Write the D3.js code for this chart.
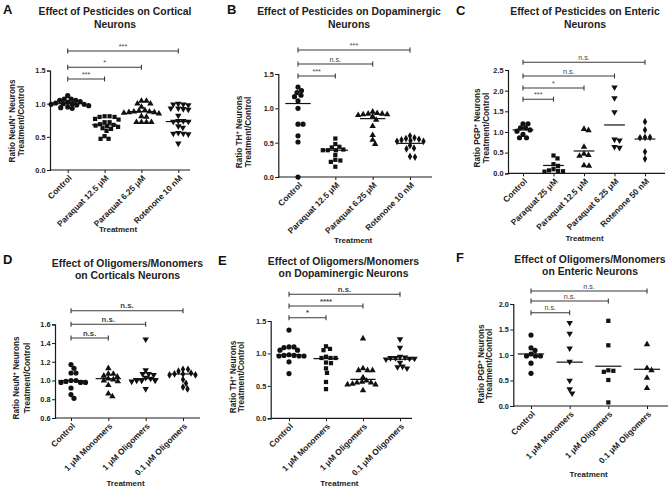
<!DOCTYPE html>
<html><head><meta charset="utf-8">
<script src="https://cdn.jsdelivr.net/npm/d3@7"></script>
<style>
body{margin:0;background:#fff}
svg{display:block}
text{font-family:Arial,"Liberation Sans",Helvetica,sans-serif;fill:#1a1a1a}
</style>
</head><body>
<svg id="c" width="669" height="489"></svg>
<script>
// ---------------- DATA ----------------
const catsA = ["Control","Paraquat 12.5 μM","Paraquat 6.25 μM","Rotenone 10 nM"];
const valuesA = [
  [1.12,1.07,1.07,1.05,1.05,1.03,1.02,1.01,1.00,1.00,0.99,0.99,0.98,0.97,0.95,0.94,0.93],
  [0.81,0.81,0.80,0.80,0.77,0.76,0.72,0.72,0.69,0.68,0.67,0.66,0.65,0.63,0.62,0.59,0.51,0.47,0.47],
  [1.04,1.04,1.00,1.00,0.95,0.90,0.89,0.88,0.88,0.87,0.87,0.86,0.85,0.81,0.80,0.72,0.72,0.72,0.72],
  [1.00,0.99,0.99,0.98,0.93,0.93,0.92,0.91,0.82,0.74,0.74,0.73,0.73,0.66,0.64,0.56,0.55,0.55,0.54,0.40]
];
const meansA = [1.00,0.68,0.88,0.73];
const sigA = ["***","*","***"];
const yTicksA = [0,0.5,1.0,1.5];

const catsB = ["Control","Paraquat 12.5 μM","Paraquat 6.25 μM","Rotenone 10 nM"];
const valuesB = [
  [1.31,1.26,1.23,1.19,1.17,1.11,1.00,0.77,0.77,0.60,0.51,0.00],
  [0.56,0.48,0.44,0.43,0.40,0.39,0.39,0.39,0.32,0.25,0.24,0.22,0.15],
  [0.95,0.93,0.92,0.92,0.91,0.91,0.90,0.88,0.83,0.74,0.61,0.54,0.48],
  [0.60,0.57,0.56,0.55,0.54,0.53,0.52,0.52,0.46,0.42,0.41,0.30,0.29]
];
const meansB = [1.07,0.39,0.85,0.49];
const sigB = ["***","n.s.","***"];
const yTicksB = [0,0.5,1.0,1.5];

const catsC = ["Control","Paraquat 25 μM","Paraquat 12.5 μM","Paraquat 6.25 μM","Rotenone 50 nM"];
const valuesC = [
  [1.20,1.20,1.10,1.10,1.05,1.02,0.94,0.86,0.86],
  [0.43,0.36,0.22,0.18,0.10,0.07,0.06,0.05,0.04],
  [1.07,1.04,0.64,0.47,0.44,0.42,0.19,0.18],
  [2.08,1.82,1.48,0.82,0.80,0.64,0.62],
  [1.25,1.05,0.87,0.87,0.86,0.52,0.35]
];
const meansC = [1.05,0.19,0.54,1.17,0.83];
const sigC = ["***","*","n.s.","n.s."];
const yTicksC = [0,0.5,1.0,1.5,2.0,2.5];

const catsD = ["Control","1 μM Monomers","1 μM Oligomers","0.1 μM Oligomers"];
const valuesD = [
  [1.17,1.13,1.08,1.08,1.00,1.00,0.99,0.98,0.98,0.98,0.92,0.85,0.81],
  [1.13,1.07,1.07,1.05,1.04,1.02,1.01,1.00,0.99,0.95,0.86,0.83],
  [1.44,1.11,1.07,1.07,1.06,1.03,1.02,1.00,1.00,1.00,0.99,0.91],
  [1.12,1.12,1.10,1.08,1.07,1.07,1.06,1.06,1.01,0.97,0.93,0.91]
];
const meansD = [1.00,1.02,1.02,1.07];
const sigD = ["n.s.","n.s.","n.s."];
const yTicksD = [0.6,0.8,1.0,1.2,1.4,1.6];

const catsE = ["Control","1 μM Monomers","1 μM Oligomers","0.1 μM Oligomers"];
const valuesE = [
  [1.36,1.10,1.10,1.09,1.05,1.05,0.98,0.97,0.97,0.96,0.96,0.96,0.87,0.69],
  [1.11,1.07,1.05,0.95,0.93,0.93,0.93,0.86,0.85,0.77,0.70,0.56,0.45],
  [1.23,0.77,0.74,0.74,0.74,0.63,0.58,0.56,0.55,0.55,0.53,0.52,0.52,0.43],
  [1.22,1.09,0.95,0.94,0.93,0.93,0.92,0.92,0.91,0.86,0.80,0.79,0.77]
];
const meansE = [0.98,0.92,0.60,0.91];
const sigE = ["*","****","n.s."];
const yTicksE = [0,0.5,1.0,1.5];

const catsF = ["Control","1 μM Monomers","1 μM Oligomers","0.1 μM Oligomers"];
const valuesF = [
  [1.39,1.14,1.09,1.02,0.98,0.98,0.98,0.84,0.64],
  [1.63,1.42,1.13,0.87,0.50,0.33,0.25],
  [1.67,1.19,0.70,0.69,0.67,0.51,0.07],
  [1.21,0.74,0.70,0.55,0.35]
];
const meansF = [1.02,0.86,0.78,0.72];
const sigF = ["n.s.","n.s.","n.s."];
const yTicksF = [0,0.5,1.0,1.5,2.0];

// ---------------- LAYOUT ----------------
const panels = [
  {letter:"A", lx:3, ly:14, title:["Effect of Pesticides on Cortical","Neurons"], tx:115, ty:[15,27.5],
   cats:catsA, values:valuesA, means:meansA, sig:sigA, ticks:yTicksA, yDom:[0,1.5], yRange:[170,70.5],
   axisX:50, xRange:[67.7,178.3], axisEnd:190, bars:[79,67.3,51],
   ylab:["Ratio NeuN","+"," Neurons"], ylx:[15,23.5], lyc:121, trY:232,
   shapes:["circle","square","triangle","tridown"], sigBold:false},
  {letter:"B", lx:227, ly:14, title:["Effect of Pesticides on Dopaminergic","Neurons"], tx:349, ty:[15,27.5],
   cats:catsB, values:valuesB, means:meansB, sig:sigB, ticks:yTicksB, yDom:[0,1.5], yRange:[177,74],
   axisX:278.3, xRange:[298,410], axisEnd:432, bars:[76,64,50],
   ylab:["Ratio  TH","+"," Neurons"], ylx:[242,251], lyc:132, trY:243,
   shapes:["circle","square","triangle","diamond"], sigBold:false},
  {letter:"C", lx:456, ly:15, title:["Effect of Pesticides on Enteric","Neurons"], tx:585, ty:[15,27.5],
   cats:catsC, values:valuesC, means:meansC, sig:sigC, ticks:yTicksC, yDom:[0,2.5], yRange:[173.3,70],
   axisX:508, xRange:[523,645], axisEnd:665, bars:[99.3,88,76,62.3],
   ylab:["Ratio PGP","+"," Neurons"], ylx:[480,488.5], lyc:128, trY:241,
   shapes:["circle","square","triangle","tridown","diamond"], sigBold:false},
  {letter:"D", lx:3, ly:264, title:["Effect of Oligomers/Monomers","on Corticals Neurons"], tx:127.5, ty:[267,279],
   cats:catsD, values:valuesD, means:meansD, sig:sigD, ticks:yTicksD, yDom:[0.6,1.6], yRange:[418,324.3],
   axisX:55, xRange:[71,183], axisEnd:200, bars:[338,324.3,310.7],
   ylab:["Ratio NeuN","+"," Neurons"], ylx:[19,30], lyc:378, trY:486,
   shapes:["circle","triangle","tridown","diamond"], sigBold:true},
  {letter:"E", lx:218, ly:265, title:["Effect of Oligomers/Monomers","on Dopaminergic Neurons"], tx:343.5, ty:[265,277],
   cats:catsE, values:valuesE, means:meansE, sig:sigE, ticks:yTicksE, yDom:[0,1.5], yRange:[418.3,321],
   axisX:270.7, xRange:[289,400], axisEnd:412, bars:[317.7,306,294.3],
   ylab:["Ratio  TH","+"," Neurons"], ylx:[235.5,244], lyc:377, trY:486,
   shapes:["circle","square","triangle","tridown"], sigBold:true},
  {letter:"F", lx:456, ly:262, title:["Effect of Oligomers/Monomers","on Enteric Neurons"], tx:590, ty:[263,275],
   cats:catsF, values:valuesF, means:meansF, sig:sigF, ticks:yTicksF, yDom:[0,2.0], yRange:[406,304],
   axisX:513.3, xRange:[531,647], axisEnd:668, bars:[312.7,301,291],
   ylab:["Ratio PGP","+"," Neurons"], ylx:[483.5,492], lyc:364, trY:477,
   shapes:["circle","tridown","square","triangle"], sigBold:false}
];

const svg = d3.select("#c");
const INK = "#1a1a1a", BAR = "#3a3a3a";
const symType = {circle:d3.symbolCircle, square:d3.symbolSquare, triangle:d3.symbolTriangle, tridown:d3.symbolTriangle, diamond:d3.symbolDiamond};
const symSize = {circle:21, square:18, triangle:18, tridown:18, diamond:17};

function dodge(vals, y, diam) {
  const pts = vals.map(v => ({v, py: y(v)})).sort((a,b) => a.py - b.py);
  const placed = [];
  const offs = [0];
  for (let k = 1; k <= 60; k++) { offs.push(k*0.5); offs.push(-k*0.5); }
  for (const p of pts) {
    p.dx = 0;
    for (const o of offs) {
      if (placed.every(q => Math.hypot(q.dx - o, q.py - p.py) >= diam)) { p.dx = o; break; }
    }
    placed.push(p);
  }
  return pts;
}

panels.forEach(p => {
  const g = svg.append("g");
  const y = d3.scaleLinear().domain(p.yDom).range(p.yRange);
  const x = d3.scalePoint().domain(p.cats).range(p.xRange);
  const step = x.step();
  const base = p.yRange[0];

  g.append("text").attr("x", p.lx).attr("y", p.ly).attr("font-size", 13).attr("font-weight", "bold")
    .style("fill", "#111").text(p.letter);
  p.title.forEach((t, i) => g.append("text").attr("x", p.tx).attr("y", p.ty[i]).attr("text-anchor", "middle")
    .attr("font-size", 10.4).attr("font-weight", "bold").style("fill", "#222").text(t));

  const ya = g.append("g").attr("transform", `translate(${p.axisX},0)`)
    .call(d3.axisLeft(y).tickValues(p.ticks).tickSize(3).tickPadding(1.5).tickFormat(d3.format(".1f")));
  ya.select(".domain").attr("stroke", INK).attr("stroke-width", 1.2);
  ya.selectAll(".tick line").attr("stroke", INK).attr("stroke-width", 1);
  ya.selectAll(".tick text").attr("font-size", 7.3).attr("font-weight", "bold").style("fill", "#222").attr("font-family", null);

  const xa = g.append("g").attr("transform", `translate(0,${base})`)
    .call(d3.axisBottom(x).tickSize(3).tickFormat(""));
  xa.select(".domain").remove();
  xa.selectAll(".tick line").attr("stroke", INK).attr("stroke-width", 1);
  g.append("line").attr("x1", p.axisX).attr("x2", p.axisEnd).attr("y1", base).attr("y2", base)
    .attr("stroke", INK).attr("stroke-width", 1.2);
  p.cats.forEach(c => g.append("text")
    .attr("transform", `translate(${x(c)+2.5},${base+6.5}) rotate(-45)`)
    .attr("text-anchor", "end").attr("dy", "0.35em")
    .attr("font-size", 8.4).attr("font-weight", "bold").style("fill", "#222").text(c));

  g.append("text").attr("x", (p.axisX + p.axisEnd)/2 - 2).attr("y", p.trY).attr("text-anchor", "middle")
    .attr("font-size", 8).attr("font-weight", "bold").style("fill", "#222").text("Treatment");

  const yl1 = g.append("text").attr("transform", `translate(${p.ylx[0]},${p.lyc}) rotate(-90)`)
    .attr("text-anchor", "middle").attr("font-size", 8.2).attr("font-weight", "bold").style("fill", "#222");
  yl1.append("tspan").text(p.ylab[0]);
  yl1.append("tspan").attr("baseline-shift", "super").attr("font-size", 5.8).text(p.ylab[1]);
  yl1.append("tspan").text(p.ylab[2]);
  g.append("text").attr("transform", `translate(${p.ylx[1]},${p.lyc}) rotate(-90)`)
    .attr("text-anchor", "middle").attr("font-size", 8.2).attr("font-weight", "bold").style("fill", "#222")
    .text("Treatment/Control");

  p.sig.forEach((s, i) => {
    const x1 = x(p.cats[0]), x2 = x(p.cats[i+1]), yy = p.bars[i];
    g.append("path").attr("d", `M${x1},${yy-2.5}V${yy+2.5}M${x1},${yy}H${x2}M${x2},${yy-2.5}V${yy+2.5}`)
      .attr("fill", "none").attr("stroke", BAR).attr("stroke-width", 1.1);
    g.append("text").attr("x", (x1+x2)/2).attr("y", yy - 2.3).attr("text-anchor", "middle")
      .attr("font-size", p.sigBold ? 7.8 : 7.2).attr("font-weight", p.sigBold ? "bold" : "normal")
      .style("fill", "#444").text(s);
  });

  p.values.forEach((vals, ci) => {
    const shape = p.shapes[ci];
    const cx = x(p.cats[ci]);
    const pts = dodge(vals, y, 4.6);
    const sym = d3.symbol(symType[shape], symSize[shape]);
    g.append("g").selectAll("path").data(pts).join("path")
      .attr("d", sym)
      .attr("transform", d => `translate(${cx + d.dx},${d.py})${shape === "tridown" ? " rotate(180)" : ""}`)
      .attr("fill", "#111");
    const hw = step * 0.34;
    g.append("line").attr("x1", cx - hw).attr("x2", cx + hw)
      .attr("y1", y(p.means[ci])).attr("y2", y(p.means[ci]))
      .attr("stroke", "#111").attr("stroke-width", 1.2);
  });
});
</script>
</body></html>
